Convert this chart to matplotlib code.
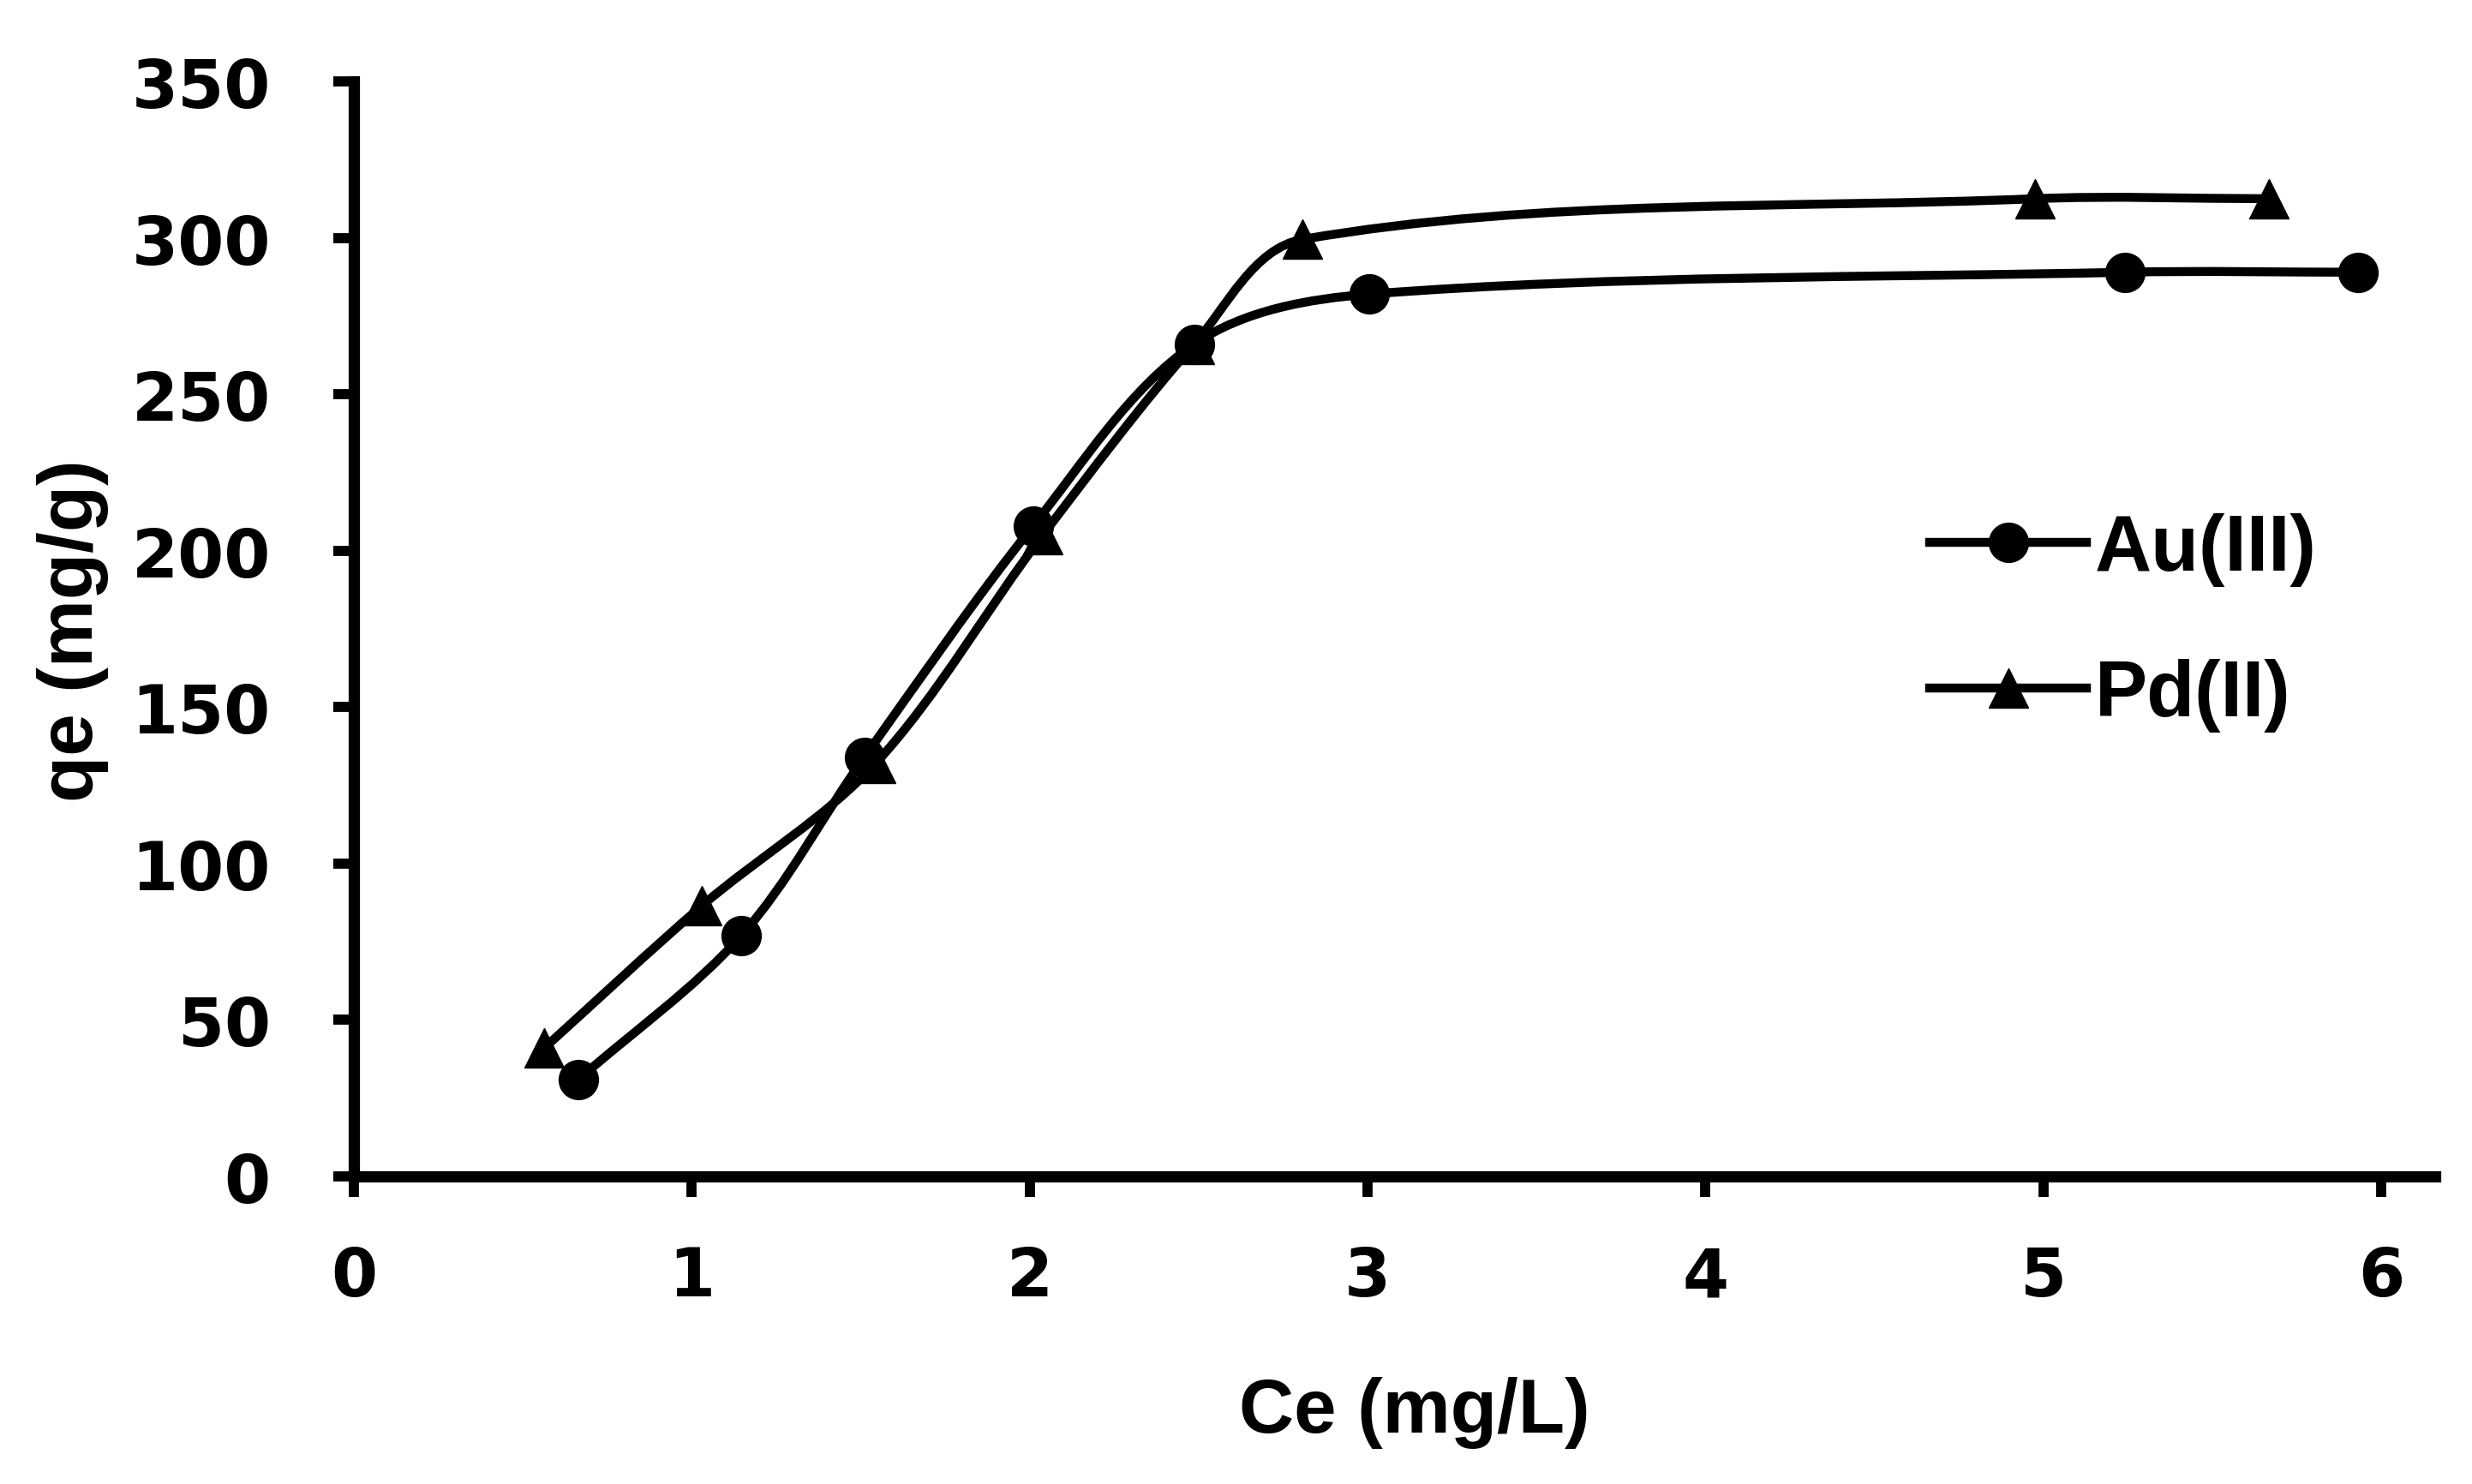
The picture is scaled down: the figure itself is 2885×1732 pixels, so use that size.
import numpy as np
import matplotlib
matplotlib.use('Agg')
import matplotlib.pyplot as plt
from matplotlib.path import Path
from matplotlib.patches import PathPatch
from matplotlib.lines import Line2D

# ----------------------
# Dados
# ----------------------

ce_au = [0.665, 1.147, 1.511, 2.011, 2.487, 3.005, 5.242, 5.933]
qe_au = [31, 77, 134, 208, 266, 282, 289, 289]

ce_pd = [0.563, 1.030, 1.544, 2.039, 2.487, 2.808, 4.976, 5.667]
qe_pd = [41, 86.5, 132, 205, 266, 299.5, 312.5, 312.5]

series_labels = ['Au(III)', 'Pd(II)']
x_ticks = [0, 1, 2, 3, 4, 5, 6]
y_ticks = [0, 50, 100, 150, 200, 250, 300, 350]

# ----------------------
# Curva suavizada (tipo Excel)
# ----------------------

def smooth_path(ax, xs, ys, k=0.33):
    # control points computed in pixel space, then back to data
    p = ax.transData.transform(np.column_stack([xs, ys]))
    n = len(p)
    tang = []
    for i in range(n):
        a = p[i - 1] if i > 0 else p[i]
        b = p[i + 1] if i + 1 < n else p[i]
        d = b - a
        tang.append(d / np.hypot(*d))
    verts = [p[0]]
    codes = [Path.MOVETO]
    for i in range(n - 1):
        L = np.hypot(*(p[i + 1] - p[i]))
        c1 = p[i] + tang[i] * L * k
        c2 = p[i + 1] - tang[i + 1] * L * k
        verts += [c1, c2, p[i + 1]]
        codes += [Path.CURVE4] * 3
    verts = ax.transData.inverted().transform(np.array(verts))
    return Path(verts, codes)

# ----------------------
# Figura
# ----------------------

fig = plt.figure(figsize=(28.85, 17.33), dpi=100)
ax = fig.add_axes([413 / 2885, 1 - 1374 / 1733, 2429 / 2885, 1278 / 1733])

ax.set_xlim(0, 6.16)
ax.set_ylim(0, 350)
ax.set_xticks(x_ticks)
ax.set_yticks(y_ticks)

lw = 7.5
ms = 33

for xs, ys, mk in [(ce_au, qe_au, 'o'), (ce_pd, qe_pd, '^')]:
    ax.add_patch(PathPatch(smooth_path(ax, xs, ys), facecolor='none',
                           edgecolor='black', lw=lw, capstyle='butt'))
    ax.plot(xs, ys, ls='none', marker=mk, ms=ms, color='black')

for s in ['top', 'right']:
    ax.spines[s].set_visible(False)
for s in ['left', 'bottom']:
    ax.spines[s].set_linewidth(9.5)
    ax.spines[s].set_color('black')

ax.tick_params(axis='both', direction='out', length=17, width=8.5, color='black')
ax.tick_params(axis='x', pad=40)
ax.tick_params(axis='y', pad=53)

for lab in ax.get_xticklabels() + ax.get_yticklabels():
    lab.set_fontfamily('DejaVu Sans')
    lab.set_fontweight('bold')
    lab.set_fontsize(56)

lab_font = dict(family='Liberation Sans', weight='bold', size=64)
ax.set_xlabel('Ce (mg/L)', va='center', **lab_font)
ax.xaxis.set_label_coords(0.5095, -0.215)
ax.set_ylabel('qe (mg/g)', va='center', **lab_font)
ax.yaxis.set_label_coords(-0.135, 0.499)

handles = [
    Line2D([], [], color='black', lw=lw, marker='o', ms=ms),
    Line2D([], [], color='black', lw=lw, marker='^', ms=ms),
]
ax.legend(handles, series_labels, loc='center left',
          bbox_to_anchor=(2252 / 2885, 1 - 727 / 1733), bbox_transform=fig.transFigure,
          frameon=False, borderpad=0, borderaxespad=0, handlelength=2.0,
          handletextpad=0.1, labelspacing=0.92,
          prop=dict(family='Liberation Sans', weight='bold', size=66))

fig.savefig('out.png', dpi=100)
